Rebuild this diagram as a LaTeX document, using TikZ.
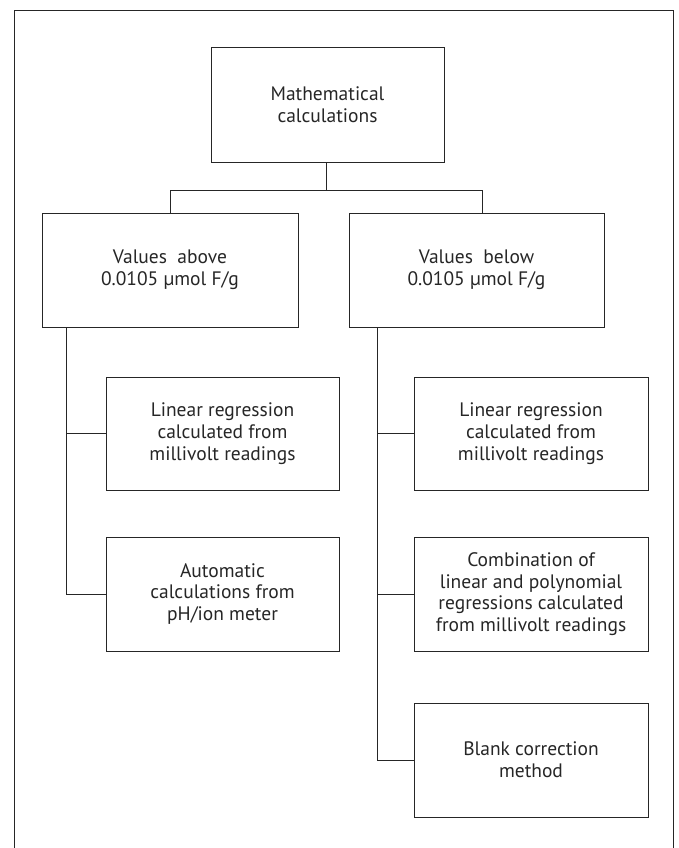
\documentclass[tikz,border=0pt]{standalone}
\usepackage{fontspec}
\setmainfont{PT Sans}
\begin{document}
\begin{tikzpicture}[x=1pt,y=-1pt,
  box/.style={draw=black!85,line width=0.9pt,rectangle,align=center,inner sep=0pt,
    font=\fontsize{19.5}{21.7}\selectfont,text=black!85},
  conn/.style={draw=black!85,line width=0.9pt}]
\useasboundingbox (0,0) rectangle (678,848);
\draw[line width=1pt,black!85] (14,860) -- (14,11) -- (673,11) -- (673,860);
\node[box,minimum width=233pt,minimum height=115pt] (top) at (327.5,104.5) {Mathematical\\calculations};
\node[box,minimum width=256pt,minimum height=114pt] (va) at (170,270) {Values\ \ above\\0.0105 µmol F/g};
\node[box,minimum width=255pt,minimum height=114pt] (vb) at (476.5,270) {Values\ \ below\\0.0105 µmol F/g};
\node[box,minimum width=233pt,minimum height=113pt] (l1) at (222.5,433.5) {Linear regression\\calculated from\\millivolt readings};
\node[box,minimum width=233pt,minimum height=114pt] (l2) at (222.5,594) {Automatic\\calculations from\\pH/ion meter};
\node[box,minimum width=234pt,minimum height=113pt] (r1) at (531,433.5) {Linear regression\\calculated from\\millivolt readings};
\node[box,minimum width=234pt,minimum height=114pt] (r2) at (531,594) {Combination of\\linear and polynomial\\regressions calculated\\from millivolt readings};
\node[box,minimum width=234pt,minimum height=114pt] (r3) at (531,760) {Blank correction\\method};
\coordinate (hj) at (326,190);
\coordinate (hl) at (170,190);
\coordinate (hr) at (482,190);
\coordinate (ltop) at (66,327);
\coordinate (rtop) at (377,327);
\draw[conn] (top.south -| hj) -- (hj);
\draw[conn] (va.north -| hl) -- (hl) -- (hr) -- (vb.north -| hr);
\draw[conn] (ltop) -- (ltop |- l2.west) -- (l2.west);
\draw[conn] (ltop |- l1.west) -- (l1.west);
\draw[conn] (rtop) -- (rtop |- r3.west) -- (r3.west);
\draw[conn] (rtop |- r1.west) -- (r1.west);
\draw[conn] (rtop |- r2.west) -- (r2.west);
\end{tikzpicture}
\end{document}
